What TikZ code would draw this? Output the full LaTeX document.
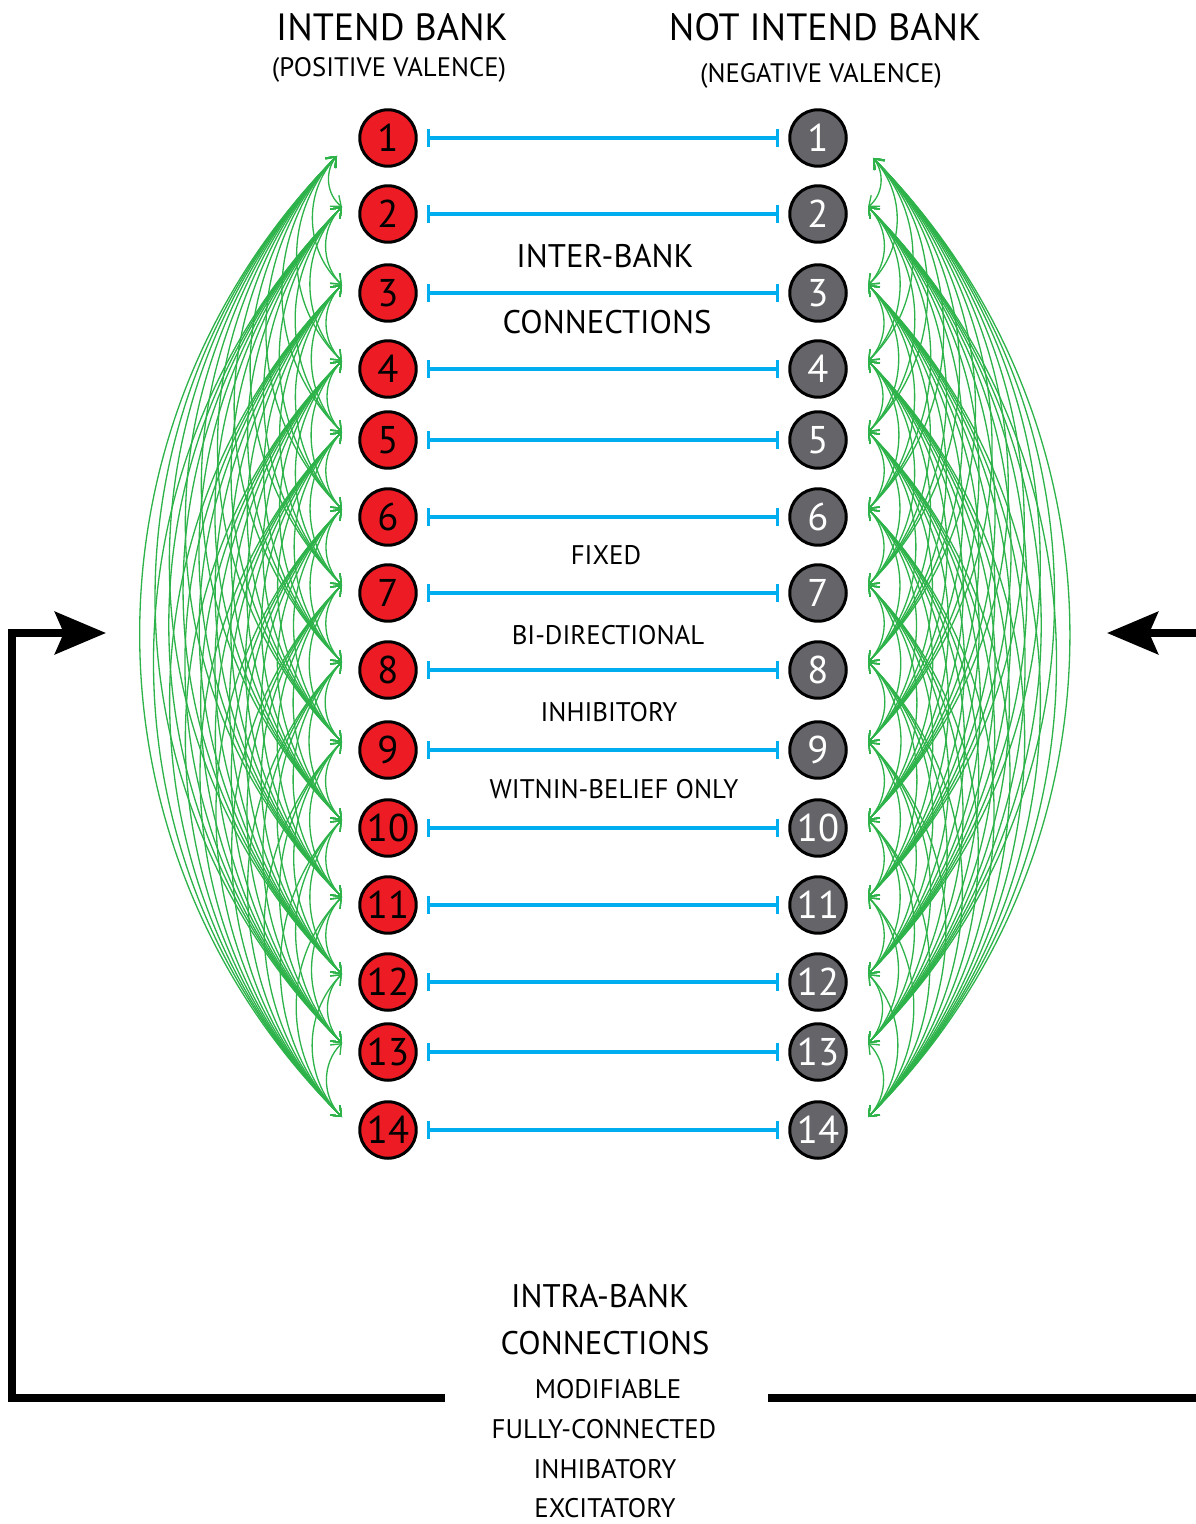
\documentclass[tikz,border=0pt]{standalone}
\usepackage{fontspec}
\setmainfont{PT Sans}
\usetikzlibrary{arrows.meta}
\definecolor{bankred}{HTML}{ED1C24}
\definecolor{bankgray}{HTML}{646469}
\definecolor{fixblue}{HTML}{00AEEF}
\definecolor{linkgreen}{HTML}{2DB34A}
\begin{document}
\begin{tikzpicture}[x=0.02cm,y=-0.02cm,
  unit/.style={circle,draw=black,line width=1.7pt,minimum size=1.13cm,inner sep=0pt,font=\fontsize{22}{24}\selectfont},
  posunit/.style={unit,fill=bankred,text=black},
  negunit/.style={unit,fill=bankgray,text=white},
  inter/.style={fixblue,line width=1.9pt,{Bar[width=10pt]}-{Bar[width=10pt]},shorten <=5pt,shorten >=5pt},
  intra/.style={linkgreen,line width=0.75pt,{Straight Barb[length=5pt,width=8pt]}-{Straight Barb[length=5pt,width=8pt]}},
  feedback/.style={line width=4.5pt,-{Stealth[length=29pt,width=24pt,inset=5pt]}},
  title/.style={font=\fontsize{21.6}{25}\selectfont},
  subtitle/.style={font=\fontsize{15.2}{18}\selectfont},
  heading/.style={font=\fontsize{18.6}{22}\selectfont},
  note/.style={font=\fontsize{15.3}{18}\selectfont}]
\clip (0,0) rectangle (1196,1524);

\node[title] (intend) at (392,27) {INTEND BANK};
\node[subtitle] (posval) at (389,70) {(POSITIVE VALENCE)};
\node[title] (notintend) at (825,27) {NOT INTEND BANK};
\node[subtitle] (negval) at (821,76) {(NEGATIVE VALENCE)};

\foreach \i/\y/\t in {1/138/156,2/214/207,3/293/285,4/369/361,5/440/432,6/517/509,7/593/585,
    8/670/662,9/750/742,10/828/820,11/905/897,12/982/974,13/1052/1043,14/1130/1117} {
  \node[posunit] (l\i) at (388,\y) {\i};
  \node[negunit] (r\i) at (818,\y) {\i};
  \draw[inter] (l\i) -- (r\i);
  \coordinate (la\i) at (342,\t);
  \coordinate (ra\i) at (868,\t);
}
\coordinate (la1) at (337,156);
\coordinate (ra1) at (873,158);

\foreach \i in {1,...,13} {
  \pgfmathtruncatemacro\k{\i+1}
  \foreach \j in {\k,...,14} {
    \draw[intra] (la\i) to[bend right=45] (la\j);
    \draw[intra] (ra\i) to[bend left=45] (ra\j);
  }
}

\node[heading] (interbank) at (605,256) {INTER-BANK};
\node[heading] (interconn) at (607,322) {CONNECTIONS};
\node[note] (fixed) at (606,555) {FIXED};
\node[note] (bidir) at (608,635) {BI-DIRECTIONAL};
\node[note] (inhib) at (609,712) {INHIBITORY};
\node[note] (within) at (614,789) {WITNIN-BELIEF ONLY};

\node[heading] (intrabank) at (600,1296) {INTRA-BANK};
\node[heading] (intraconn) at (605,1343) {CONNECTIONS};
\node[note] (modif) at (608,1389) {MODIFIABLE};
\node[note] (fully) at (604,1429) {FULLY-CONNECTED};
\node[note] (inhab) at (605,1469) {INHIBATORY};
\node[note] (excit) at (605,1508) {EXCITATORY};

\coordinate (lout) at (445,1398);
\coordinate (lin) at (106,633);
\coordinate (rout) at (768,1398);
\coordinate (rin) at (1107,633);
\draw[feedback] (lout) -| (12,633) -- (lin);
\draw[feedback] (rout) -| (1215,633) -- (rin);
\end{tikzpicture}
\end{document}
